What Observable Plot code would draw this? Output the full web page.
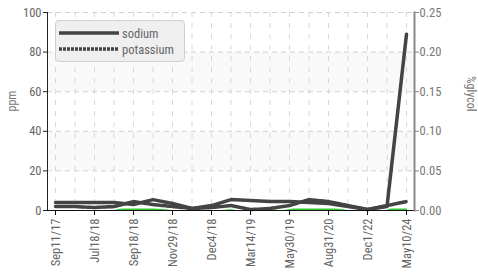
<!DOCTYPE html>
<html>
<head>
<meta charset="utf-8">
<script src="https://cdn.jsdelivr.net/npm/d3@7"></script>
<script src="https://cdn.jsdelivr.net/npm/@observablehq/plot@0.6"></script>
<style>
  html, body { margin: 0; padding: 0; background: #fff; }
  #wrap { position: relative; width: 478px; height: 272px; font-family: "Roboto Condensed", "Liberation Sans Narrow", "DejaVu Sans Condensed", sans-serif; font-stretch: condensed; }
  #legend { position: absolute; left: 55px; top: 20px; width: 130px; height: 42px; background: #efefef; border: 1px solid #cfcfcf; border-radius: 4px; box-sizing: border-box; }
  #legend .row { position: absolute; left: 3px; height: 14px; display: flex; align-items: center; font-size: 12.5px; color: #666; }
  #legend svg { margin-right: 3px; }
</style>
</head>
<body>
<div id="wrap"></div>
<script>
// tick labels (every other sample)
const dateLabels = ["Sep11/17","Jul18/18","Sep18/18","Nov29/18","Dec4/18","Mar14/19","May30/19","Aug31/20","Dec1/22","May10/24"];
// series (ppm), 19 samples
const sodium    = [4, 4, 4, 4, 3, 5.5, 3.5, 1, 2.5, 5.5, 5, 4.5, 4.5, 4, 3.5, 2, 0.5, 2, 89];
const potassium = [2, 2, 1.5, 2, 4.5, 3, 2, 1, 1.5, 2.5, 0.5, 1, 2.5, 5.5, 4.5, 2.5, 0.5, 2.5, 4.5];
const glycol    = [0, 0, 0, 0, 0, 0, 0, 0, 0, 0, 0, 0, 0, 0, 0, 0, 0, 0, 0]; // %glycol (right axis)
const ppmTicks = [0, 20, 40, 60, 80, 100];
const glycolScale = 400; // 0.25 %glycol <-> 100 ppm
const bands = [{lo: 60, hi: 80}, {lo: 20, hi: 40}];

const idx = d3.range(sodium.length);
const rows = (arr, name) => arr.map((v, i) => ({i, v, name}));

const font = '"Roboto Condensed", "Liberation Sans Narrow", "DejaVu Sans Condensed", sans-serif';

const chart = Plot.plot({
  width: 478, height: 272,
  marginLeft: 47, marginRight: 64, marginTop: 12, marginBottom: 62,
  style: {fontFamily: font, fontSize: "12.5px", color: "#666", background: "white", fontStretch: "condensed"},
  x: {type: "linear", domain: [0, idx.length - 1], insetLeft: 8, insetRight: 8},
  y: {domain: [0, 100]},
  marks: [
    Plot.rect(bands, {y1: "lo", y2: "hi", fill: "#f9f9f9"}),
    Plot.ruleY(ppmTicks.slice(1), {stroke: "#d0d0d0", strokeDasharray: "5,4"}),
    Plot.ruleX(idx, {stroke: "#d8d8d8", strokeDasharray: "5,6"}),
    Plot.lineY(rows(glycol), {x: "i", y: d => d.v * glycolScale, stroke: "#33cc33", strokeWidth: 1.5, dy: -1.2}),
    Plot.lineY(rows(potassium), {x: "i", y: "v", stroke: "white", strokeWidth: 2, curve: "linear", dy: 2.5}),
    Plot.lineY(rows(sodium), {x: "i", y: "v", stroke: "white", strokeWidth: 2, curve: "linear", dy: 2.5}),
    Plot.lineY(rows(potassium), {x: "i", y: "v", stroke: "#444", strokeWidth: 3.5, strokeDasharray: "3,1", curve: "linear"}),
    Plot.lineY(rows(sodium), {x: "i", y: "v", stroke: "#444", strokeWidth: 3.5, curve: "linear"}),
    Plot.frame({anchor: "left", stroke: "#222"}),
    Plot.frame({anchor: "bottom", stroke: "#111"}),
    Plot.frame({anchor: "right", stroke: "#888", strokeWidth: 2}),
    Plot.axisY(ppmTicks, {anchor: "left", tickSize: 4, tickPadding: 2, label: null, stroke: "#222", fill: "#666"}),
    Plot.axisY(ppmTicks, {anchor: "right", tickSize: 4, tickPadding: 1, label: null, stroke: "#888", fill: "#777", tickFormat: d => (d / glycolScale).toFixed(2)}),
    Plot.axisX(d3.range(0, idx.length, 2), {anchor: "bottom", tickSize: 5, tickPadding: 3, tickRotate: -90, label: null, stroke: "#111", fill: "#666", tickFormat: i => dateLabels[i / 2]}),
    Plot.text(["ppm"], {frameAnchor: "left", dx: -35, rotate: -90, fill: "#777", fontSize: 12}),
    Plot.text(["%glycol"], {frameAnchor: "right", dx: 56, rotate: 90, fill: "#777", fontSize: 12})
  ]
});

const wrap = document.getElementById("wrap");
wrap.appendChild(chart);

const legend = document.createElement("div");
legend.id = "legend";
legend.innerHTML = `
  <div class="row" style="top:5px"><svg width="60" height="6"><line x1="0" y1="3" x2="60" y2="3" stroke="#444" stroke-width="3.5"/></svg>sodium</div>
  <div class="row" style="top:21px"><svg width="60" height="6"><line x1="0" y1="3" x2="60" y2="3" stroke="#444" stroke-width="3.5" stroke-dasharray="3,1"/></svg>potassium</div>`;
wrap.appendChild(legend);
</script>
</body>
</html>
